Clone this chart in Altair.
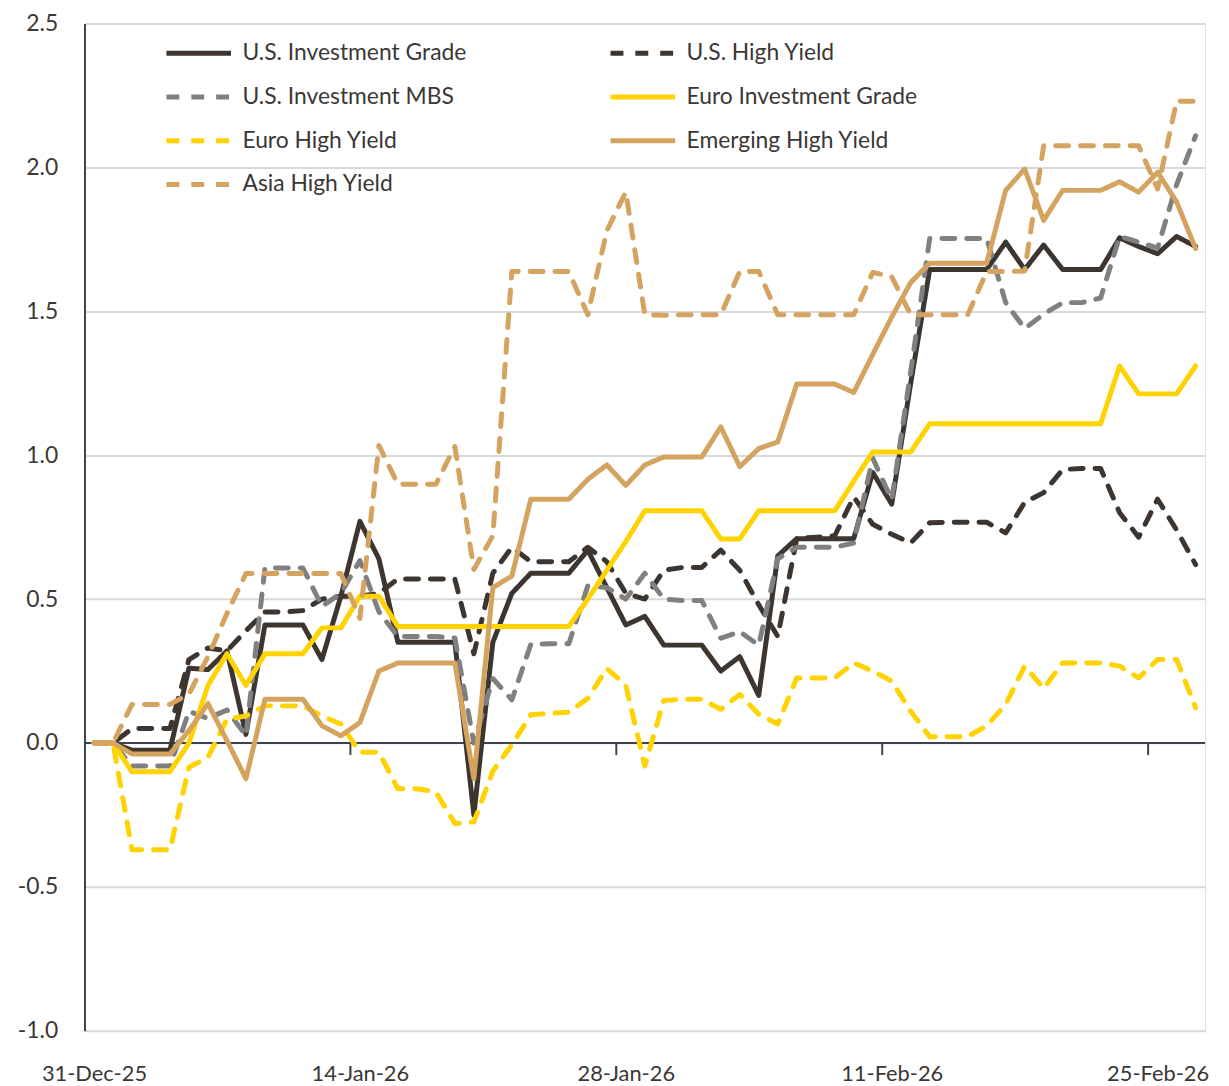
import altair as alt
import pandas as pd

START_DATE = "2025-12-31"
SERIES = ["U.S. Investment Grade", "U.S. High Yield", "U.S. Investment MBS",
          "Euro Investment Grade", "Euro High Yield", "Emerging High Yield",
          "Asia High Yield"]
COLORS = ["#3d3530", "#3d3530", "#808080", "#ffd200", "#ffd200", "#d4a35f", "#d4a35f"]
DASHES = [[1, 0], [13, 12], [13, 12], [1, 0], [13, 12], [1, 0], [13, 12]]

us_ig = [0, 0, -0.025, -0.025, -0.025, 0.26, 0.255, 0.32, 0.03, 0.41,
         0.41, 0.41, 0.29, 0.51, 0.77, 0.64, 0.35, 0.35, 0.35, 0.35,
         -0.25, 0.35, 0.52, 0.59, 0.59, 0.59, 0.67, 0.54, 0.41, 0.44,
         0.34, 0.34, 0.34, 0.25, 0.30, 0.165, 0.65, 0.71, 0.71, 0.71,
         0.71, 0.94, 0.83, 1.25, 1.645, 1.645, 1.645, 1.645, 1.74, 1.645,
         1.73, 1.645, 1.645, 1.645, 1.755, 1.725, 1.70, 1.76, 1.725]
us_hy = [0, 0, 0.05, 0.05, 0.05, 0.29, 0.33, 0.32, 0.39, 0.455,
         0.455, 0.46, 0.50, 0.51, 0.51, 0.52, 0.57, 0.57, 0.57, 0.57,
         0.31, 0.59, 0.68, 0.63, 0.63, 0.63, 0.68, 0.63, 0.52, 0.50,
         0.60, 0.61, 0.61, 0.67, 0.60, 0.48, 0.37, 0.71, 0.715, 0.72,
         0.855, 0.76, 0.725, 0.695, 0.765, 0.767, 0.767, 0.767, 0.73, 0.836,
         0.87, 0.95, 0.954, 0.954, 0.80, 0.715, 0.847, 0.74, 0.62]
us_mbs = [0, 0, -0.08, -0.08, -0.08, 0.11, 0.085, 0.115, 0.025, 0.608,
          0.608, 0.608, 0.475, 0.52, 0.634, 0.456, 0.37, 0.37, 0.37, 0.365,
          0.0, 0.224, 0.15, 0.343, 0.345, 0.345, 0.546, 0.54, 0.50, 0.59,
          0.50, 0.495, 0.495, 0.364, 0.387, 0.34, 0.64, 0.68, 0.68, 0.68,
          0.695, 0.99, 0.845, 1.29, 1.753, 1.753, 1.753, 1.753, 1.53, 1.44,
          1.49, 1.53, 1.53, 1.546, 1.76, 1.74, 1.72, 1.94, 2.11]
euro_ig = [0, 0, -0.10, -0.10, -0.10, 0.0, 0.20, 0.31, 0.20, 0.31,
           0.31, 0.31, 0.40, 0.40, 0.51, 0.51, 0.405, 0.405, 0.405, 0.405,
           0.405, 0.405, 0.405, 0.405, 0.405, 0.405, 0.50, 0.60, 0.70, 0.807,
           0.807, 0.807, 0.807, 0.709, 0.709, 0.807, 0.807, 0.807, 0.807, 0.807,
           0.91, 1.011, 1.011, 1.011, 1.109, 1.109, 1.109, 1.109, 1.109, 1.109,
           1.109, 1.109, 1.109, 1.109, 1.31, 1.213, 1.213, 1.213, 1.31]
euro_hy = [0, 0, -0.371, -0.371, -0.371, -0.084, -0.05, 0.083, 0.094, 0.129,
           0.129, 0.129, 0.094, 0.066, -0.032, -0.032, -0.159, -0.159, -0.17, -0.28,
           -0.274, -0.098, -0.006, 0.098, 0.103, 0.107, 0.155, 0.259, 0.20, -0.08,
           0.148, 0.152, 0.152, 0.117, 0.169, 0.10, 0.066, 0.226, 0.226, 0.226,
           0.278, 0.25, 0.215, 0.11, 0.022, 0.022, 0.022, 0.06, 0.134, 0.267,
           0.19, 0.278, 0.278, 0.278, 0.267, 0.226, 0.29, 0.29, 0.123]
em_hy = [0, 0, -0.038, -0.038, -0.038, 0.043, 0.137, 0.008, -0.124, 0.152,
         0.152, 0.152, 0.06, 0.025, 0.071, 0.25, 0.278, 0.278, 0.278, 0.278,
         -0.124, 0.54, 0.58, 0.847, 0.847, 0.847, 0.916, 0.966, 0.895, 0.966,
         0.994, 0.994, 0.994, 1.098, 0.96, 1.023, 1.046, 1.247, 1.247, 1.247,
         1.218, 1.35, 1.48, 1.60, 1.667, 1.667, 1.667, 1.667, 1.92, 1.994,
         1.816, 1.92, 1.92, 1.92, 1.95, 1.914, 1.983, 1.88, 1.718]
asia_hy = [0, 0, 0.134, 0.134, 0.134, 0.17, 0.30, 0.45, 0.589, 0.589,
           0.589, 0.589, 0.589, 0.589, 0.433, 1.034, 0.899, 0.899, 0.899, 1.03,
           0.603, 0.72, 1.638, 1.638, 1.638, 1.638, 1.488, 1.78, 1.914, 1.488,
           1.486, 1.488, 1.488, 1.488, 1.638, 1.638, 1.488, 1.488, 1.488, 1.488,
           1.488, 1.635, 1.62, 1.488, 1.488, 1.488, 1.488, 1.638, 1.638, 1.64,
           2.075, 2.075, 2.075, 2.075, 2.075, 2.075, 1.925, 2.23, 2.23]

X_TICK_LABELS = ["31-Dec-25", "14-Jan-26", "28-Jan-26", "11-Feb-26", "25-Feb-26"]
Y_TICKS = [-1.0, -0.5, 0.0, 0.5, 1.0, 1.5, 2.0, 2.5]

TEXT = "#3b3734"
AXIS = "#3e4250"
GRID = "#d9d9d9"
FONT = "Lato"

values = [us_ig, us_hy, us_mbs, euro_ig, euro_hy, em_hy, asia_hy]
dates = pd.date_range(START_DATE, periods=len(us_ig), freq="D")
rows = []
for name, vals in zip(SERIES, values):
    for d, v in zip(dates, vals):
        rows.append({"date": d.strftime("%Y-%m-%dT%H:%M:%S"), "value": v, "series": name})
df = pd.DataFrame(rows)


def dt(ts):
    return alt.DateTime(year=ts.year, month=ts.month, date=ts.day,
                        hours=ts.hour)


half = pd.Timedelta(hours=12)
x_domain = [dt(dates[0] - half), dt(dates[-1] + half)]
tick_dates = [pd.to_datetime(s, format="%d-%b-%y") for s in X_TICK_LABELS]
x_values = [dt(t) for t in tick_dates]

ticks_df = pd.DataFrame({
    "date": [(t - half).strftime("%Y-%m-%dT%H:%M:%S") for t in tick_dates[1:]],
    "y0": [0.0] * (len(tick_dates) - 1),
    "y1": [-0.042] * (len(tick_dates) - 1),
})

x_scale = alt.Scale(domain=x_domain)
y_scale = alt.Scale(domain=[-1.0, 2.5], nice=False, zero=False)

legend = alt.Legend(
    title=None, orient="none", legendX=80, legendY=17, columns=2,
    direction="horizontal",
    symbolType="stroke", symbolSize=4225, symbolStrokeWidth=5,
    labelFontSize=23, labelFont=FONT, labelColor=TEXT, labelOffset=9,
    clipHeight=26, rowPadding=18, columnPadding=142, padding=0, labelLimit=500,
)

lines = alt.Chart(df).mark_line(strokeWidth=5, strokeCap="round", strokeJoin="round").encode(
    x=alt.X("date:T", scale=x_scale,
            axis=alt.Axis(values=x_values, format="%d-%b-%y", title=None,
                          domain=False, ticks=False, grid=False,
                          labelFontSize=22, labelFont=FONT, labelColor=TEXT,
                          labelPadding=33, labelFlush=False)),
    y=alt.Y("value:Q", scale=y_scale,
            axis=alt.Axis(values=Y_TICKS, title=None,
                          labelExpr="datum.value < 0 ? '-' + format(-datum.value, '.1f') : format(datum.value, '.1f')",
                          grid=True, gridColor=GRID, gridWidth=2,
                          domain=True, domainColor=AXIS, domainWidth=2,
                          ticks=False, labelPadding=27,
                          labelFontSize=23, labelFont=FONT, labelColor=TEXT)),
    color=alt.Color("series:N", scale=alt.Scale(domain=SERIES, range=COLORS), legend=legend),
    strokeDash=alt.StrokeDash("series:N", scale=alt.Scale(domain=SERIES, range=DASHES), legend=legend),
    order=alt.Order("date:T"),
)

zero = alt.Chart(pd.DataFrame({"y": [0.0]})).mark_rule(color=AXIS, strokeWidth=2).encode(
    y=alt.Y("y:Q", scale=y_scale)
)

zticks = alt.Chart(ticks_df).mark_rule(color=AXIS, strokeWidth=2).encode(
    x=alt.X("date:T", scale=x_scale),
    y=alt.Y("y0:Q", scale=y_scale),
    y2="y1:Q",
)

chart = alt.layer(zero, zticks, lines).properties(
    width=1128, height=1014,
    autosize=alt.AutoSizeParams(type="none"),
    padding={"left": 77, "top": 12, "right": 16, "bottom": 52},
).configure_view(stroke=None).configure(background="white")

chart.save("out.html", embed_options={"renderer": "svg", "actions": False})
